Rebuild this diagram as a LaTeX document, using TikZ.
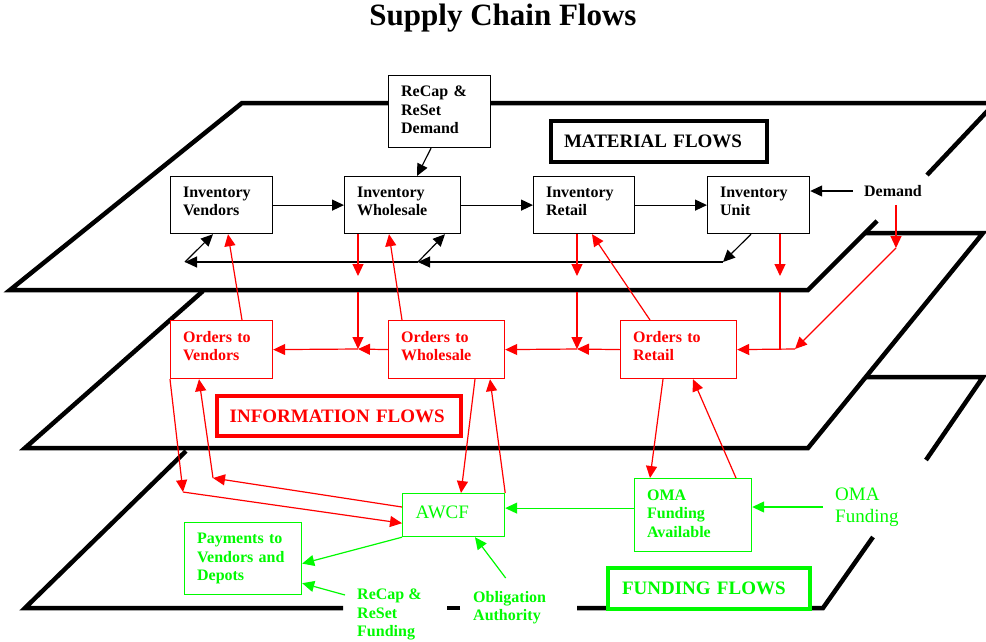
\documentclass[tikz,border=0pt]{standalone}
\usepackage{fontspec}
\setmainfont{Liberation Serif}
\usetikzlibrary{arrows.meta}
\definecolor{infored}{RGB}{255,0,0}
\definecolor{fundgreen}{RGB}{0,250,0}
\newcommand{\boxfont}{\fontsize{16}{18.3}\selectfont\bfseries}
\newcommand{\bigfont}{\fontsize{19}{21.6}\selectfont}

\begin{document}
\begin{tikzpicture}[x=1pt,y=-1pt,line join=miter,
    plate/.style={line width=4.5pt},
    cell/.style={draw,fill=white,line width=1.2pt,anchor=north west,inner xsep=12.5pt,align=left,font=\boxfont},
    twoline/.style={text depth=26pt},
    threeline/.style={text depth=40pt},
    layer/.style={draw,fill=white,line width=4pt,anchor=north west,align=left,font=\bigfont\bfseries},
    flow/.style={line width=1.2pt,-{Triangle[length=12pt,width=11pt]}}]
    \useasboundingbox (0,0) rectangle (986,641);
    \clip (0,0) rectangle (986,641);

    \node (title) at (503,18) {\fontsize{31}{37}\selectfont\bfseries Supply Chain Flows};

    % the three planes, front to back
    \draw[plate] (388,103) -- (242,103) -- (10,290) -- (808,290) -- (877,221);
    \draw[plate] (490,103) -- (995,103) -- (927,175);
    \draw[plate] (865,233) -- (983,233) -- (808,448) -- (25,448) -- (203,291);
    \draw[plate] (866,377) -- (983,377) -- (926,460);
    \draw[plate] (873,537) -- (823,608) -- (577,608);
    \draw[plate] (460,608) -- (447,608);
    \draw[plate] (343,608) -- (25,608) -- (186,451);

    % material flows
    \node[cell, threeline, text width=77pt, minimum height=72pt] (recapD) at (388,75) {ReCap \&\\ReSet\\Demand};
    \node[cell, twoline, text width=77pt, minimum height=57pt] (invV) at (170,176) {Inventory\\Vendors};
    \node[cell, twoline, text width=91pt, minimum height=57pt] (invW) at (344,176) {Inventory\\Wholesale};
    \node[cell, twoline, text width=76pt, minimum height=57pt] (invR) at (533,176) {Inventory\\Retail};
    \node[cell, twoline, text width=77pt, minimum height=57pt] (invU) at (707,176) {Inventory\\Unit};
    \node[layer, inner xsep=13pt, text width=190pt, minimum height=41pt] (matF) at (549,119) {MATERIAL FLOWS};
    \node[font=\boxfont, inner xsep=11pt, inner ysep=8pt] (demand) at (893,191) {Demand};

    % information boxes
    \begin{scope}[infored]
        \node[cell, twoline, text width=77pt, minimum height=58pt] (ordV) at (170,320) {Orders to\\Vendors};
        \node[cell, twoline, text width=91pt, minimum height=58pt] (ordW) at (388,320) {Orders to\\Wholesale};
        \node[cell, twoline, text width=91pt, minimum height=58pt] (ordR) at (620,320) {Orders to\\Retail};
        \node[layer, inner xsep=12.7pt, text width=219pt, minimum height=40pt] (infoF) at (215,394) {INFORMATION FLOWS};
    \end{scope}

    % funding boxes
    \begin{scope}[fundgreen]
        \node[cell, font=\bigfont, text depth=5pt, inner xsep=13pt, text width=76pt, minimum height=43pt] (awcf) at (402,493) {AWCF};
        \node[cell, threeline, text width=92pt, minimum height=73pt] (oma) at (634,478) {OMA\\Funding\\Available};
        \node[cell, text width=92pt, minimum height=72pt] (pay) at (184,522) {Payments to\\Vendors and\\Depots};
        \node[layer, inner xsep=14pt, text width=174pt, minimum height=41pt] (fundF) at (606,566) {FUNDING FLOWS};
        \node[font=\bigfont, align=left, anchor=west, inner xsep=12pt] (omaLbl) at (823,507) {OMA\\Funding};
        \node[font=\boxfont, align=left, anchor=north west, inner xsep=12pt, inner ysep=3pt] (recapF) at (345,586) {ReCap \&\\ReSet\\Funding};
        \node[font=\boxfont, align=left, anchor=north west, inner sep=3pt] (oblig) at (470,588) {Obligation\\Authority};
    \end{scope}

    % material arrows
    \coordinate (rt1) at (185,262);
    \coordinate (rt2) at (418,262);
    \coordinate (rt3) at (723,262);

    \draw[flow] (invV.east) -- (invW.west);
    \draw[flow] (invW.east) -- (invR.west);
    \draw[flow] (invR.east) -- (invU.west);
    \draw[flow] (demand.west) -- (demand.west -| invU.east);
    \draw[flow] ([xshift=43pt]recapD.south west) -- ([xshift=73pt]invW.north west);
    \draw[flow] ([xshift=44pt]invU.south west) -- (rt3);
    \draw[flow] (rt3) -- (rt2);
    \draw[flow] (rt2) -- (rt1);
    \draw[flow] (rt2) -- ([xshift=101pt]invW.south west);
    \draw[flow] (rt1) -- ([xshift=43pt]invV.south west);

    % information arrows
    \begin{scope}[infored]
        \coordinate (wd1) at (358,276);
        \coordinate (wd2) at (358,292);
        \coordinate (wj) at (358,349);
        \coordinate (rd1) at (577,276);
        \coordinate (rd2) at (577,292);
        \coordinate (rj) at (577,349);
        \coordinate (ud1) at (780,276);
        \coordinate (ud2) at (780,292);
        \coordinate (uj) at (780,349);
        \coordinate (dd) at (896,248);
        \coordinate (dj) at (795,349);
        \coordinate (vp) at (183,492);
        \coordinate (va) at (213,478);

        \draw[flow] ([xshift=72pt]ordV.north west) -- ([xshift=58pt]invV.south west);
        \draw[flow] ([xshift=14pt]invW.south west) -- (wd1);
        \draw[flow] (wd2) -- (wj);
        \draw[flow] ([xshift=14pt]ordW.north west) -- ([xshift=45pt]invW.south west);
        \draw[flow] (ordW.west) -- (wj);
        \draw[flow] (wj) -- (ordV.east);
        \draw[flow] ([xshift=44pt]invR.south west) -- (rd1);
        \draw[flow] (rd2) -- (rj);
        \draw[flow] (ordR.west) -- (rj);
        \draw[flow] (rj) -- (ordW.east);
        \draw[flow] ([xshift=30pt]ordR.north west) -- ([xshift=59pt]invR.south west);
        \draw[flow] ([xshift=73pt]invU.south west) -- (ud1);
        \draw[line width=1.2pt] (ud2) -- (uj);
        \draw[flow] ([xshift=3pt]demand.south) -- (dd);
        \draw[flow] (dd) -- (dj);
        \draw[flow] (dj) -- (ordR.east);

        \draw[flow] (ordV.south west) -- (vp);
        \draw[flow] (vp) -- ([yshift=14pt]awcf.south west);
        \draw[flow] ([yshift=-14pt]awcf.north west) -- (va);
        \draw[flow] (va) -- ([xshift=29pt]ordV.south west);
        \draw[flow] ([xshift=87pt]ordW.south west) -- ([xshift=59pt]awcf.north west);
        \draw[flow] (awcf.north east) -- ([xshift=102pt]ordW.south west);
        \draw[flow] ([xshift=43pt]ordR.south west) -- ([xshift=16pt]oma.north west);
        \draw[flow] ([xshift=102pt]oma.north west) -- ([xshift=73pt]ordR.south west);
    \end{scope}

    % funding arrows
    \begin{scope}[fundgreen]
        \draw[flow] (omaLbl.west) -- (omaLbl.west -| oma.east);
        \draw[flow] ([yshift=7pt]oma.west) -- ([yshift=7pt]awcf.east);
        \draw[flow] (awcf.south west) -- ([yshift=-5pt]pay.east);
        \draw[flow] ([yshift=-9pt]recapF.north west) -- ([yshift=12pt]pay.south east);
        \draw[flow] ([xshift=-4pt,yshift=10pt]oblig.north) -- ([xshift=73pt]awcf.south west);
    \end{scope}
\end{tikzpicture}
\end{document}
